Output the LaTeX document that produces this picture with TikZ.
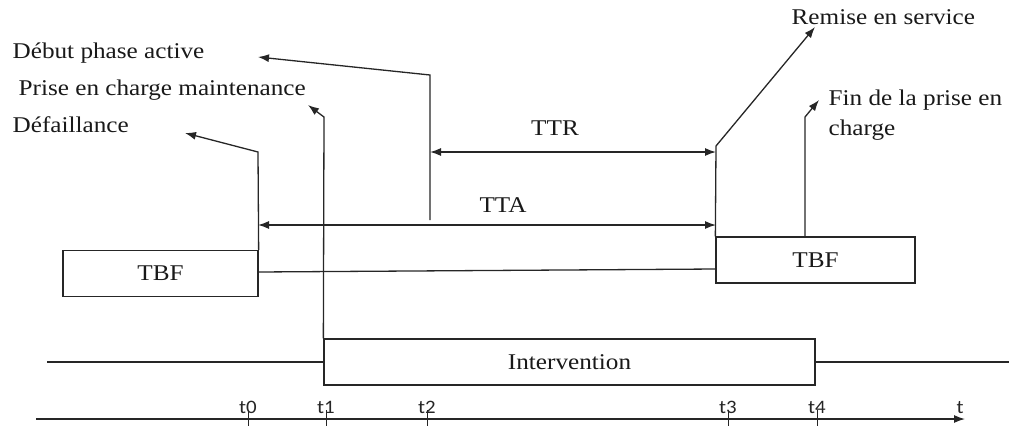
\documentclass[tikz,border=0pt]{standalone}
\usepackage{fontspec}
\usetikzlibrary{arrows.meta}
\newfontfamily\schema{Liberation Serif}[FakeStretch=1.12]
\newfontfamily\axe{Carlito}[FakeStretch=1.1]
\begin{document}
\begin{tikzpicture}[x=1pt,y=-1pt,line width=1.3pt,draw=black!85]
			\tikzset{lbl/.style={font=\schema\fontsize{22.5}{30}\selectfont,inner sep=0pt,text=black!90}}
			\tikzset{boite/.style={lbl,draw,minimum height=46pt}}
			\tikzset{tlab/.style={font=\axe\fontsize{19}{22}\selectfont,inner sep=0pt,text=black!85}}
			\tikzset{fleche/.style={-{Latex[length=11pt,width=8pt]}}}
			\tikzset{dfleche/.style={{Latex[length=11pt,width=8pt]}-{Latex[length=11pt,width=8pt]}}}
			\useasboundingbox (0,0) rectangle (1009,426);
			% boites
			\node[boite,minimum width=195pt] (tbfA) at (160.5,273.5) {TBF};
			\node[boite,minimum width=199pt] (tbfB) at (815.5,260) {TBF};
			\node[boite,minimum width=491pt] (interv) at (569.5,362) {Intervention};
			% evenements
			\node[lbl,anchor=base west] (debut) at (12,58) {Début phase active};
			\node[lbl,anchor=base west] (prise) at (18,95) {Prise en charge maintenance};
			\node[lbl,anchor=base west] (defail) at (12,132) {Défaillance};
			\node[lbl,anchor=base west] (remise) at (791,24) {Remise en service};
			\node[lbl,anchor=base west,align=left] (fin) at (828,135) {Fin de la prise en\\charge};
			\node[lbl,anchor=base] (ttr) at (555,135) {TTR};
			\node[lbl,anchor=base] (tta) at (503,212) {TTA};
			\coordinate (c0) at (258,152); \coordinate (a0) at (185,133);
			\coordinate (c1) at (324,117); \coordinate (a1) at (308,105);
			\coordinate (c2) at (430,75); \coordinate (b2) at (430,220); \coordinate (a2) at (258,57);
			\coordinate (c3) at (716,146); \coordinate (a3) at (815,27);
			\coordinate (c4) at (805,117); \coordinate (a4) at (819,100);
			\draw[fleche] (tbfA.north east) -- (c0) -- (a0);
			\draw[fleche] (interv.north west) -- (c1) -- (a1);
			\draw[fleche] (b2) -- (c2) -- (a2);
			\draw[fleche] (tbfB.north west) -- (c3) -- (a3);
			\draw[fleche] (c4 |- tbfB.north) -- (c4) -- (a4);
			% durees
			\coordinate (r0) at (430,152); \coordinate (r1) at (716,152);
			\coordinate (s0) at (258,225); \coordinate (s1) at (716,225);
			\draw[dfleche] (r0) -- (r1);
			\draw[dfleche] (s0) -- (s1);
			\coordinate (j0) at (258,272); \coordinate (j1) at (716,269);
			\draw (j0) -- (j1);
			\coordinate (g0) at (47,362); \coordinate (g1) at (1009,362);
			\draw (g0) -- (interv.west);
			\draw (interv.east) -- (g1);
			% axe du temps
			\coordinate (o) at (36,419); \coordinate (tfin) at (965,419);
			\draw[fleche] (o) -- (tfin);
			\foreach \x/\n in {248/0,326/1,427/2,728/3,817/4}{
				\draw[line width=1pt] (\x,410) -- (\x,426);
				\node[tlab,anchor=base] (t\n) at (\x,413) {t\n};
			}
			\node[tlab,anchor=base] (t) at (960,413) {t};
		\end{tikzpicture}
\end{document}
